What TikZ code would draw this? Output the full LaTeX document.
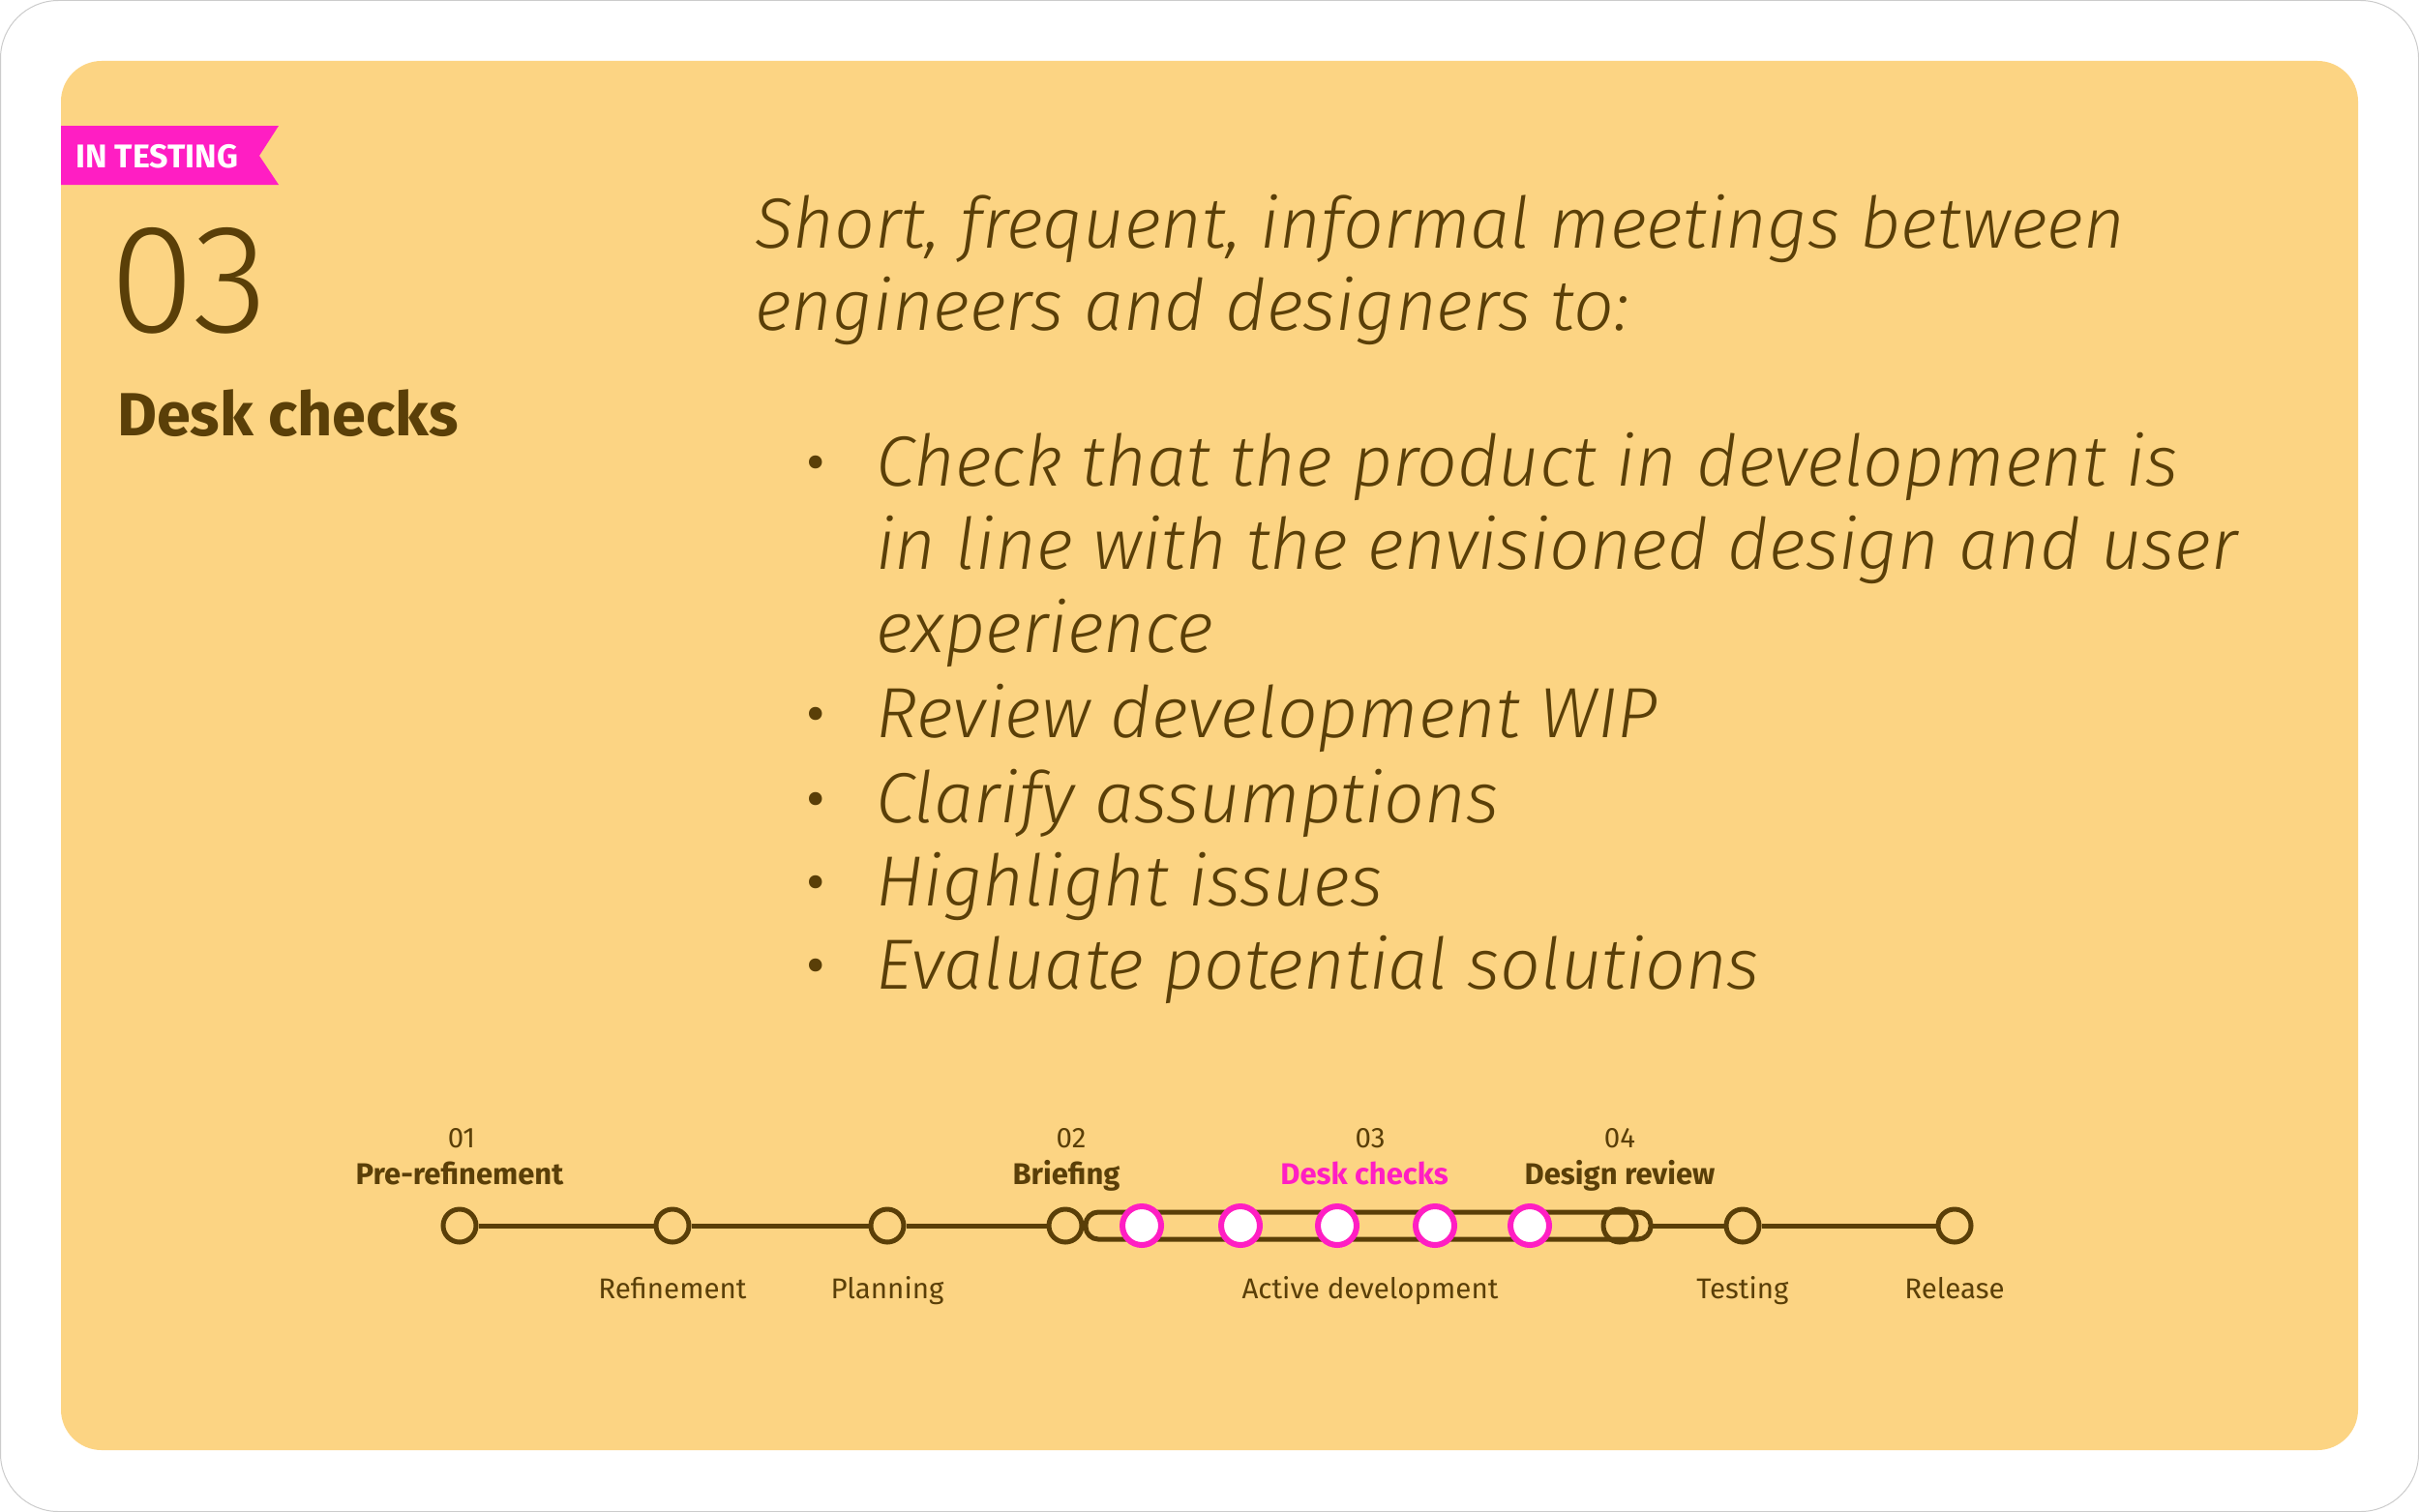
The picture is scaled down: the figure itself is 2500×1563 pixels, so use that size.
\documentclass[tikz,border=0pt]{standalone}
\usepackage{fontspec}
\setmainfont{Fira Sans}
\newfontfamily\lightf{Fira Sans Light}[ItalicFont={Fira Sans Light Italic}]
\definecolor{bgc}{HTML}{FCD483}
\definecolor{brn}{HTML}{5A3F08}
\definecolor{pnk}{HTML}{FF1EC3}
\begin{document}
\begin{tikzpicture}[x=1pt,y=-1pt,
  txt/.style={inner sep=0,text=brn},
  big/.style={txt,anchor=base west,font=\lightf\itshape\fontsize{73.5}{85}\selectfont},
  bul/.style={txt,anchor=base,font=\fontsize{60}{60}\selectfont},
  lab/.style={txt,anchor=base,font=\fontsize{29.5}{29}\selectfont},
  blab/.style={lab,font=\bfseries\fontsize{31}{29}\selectfont},
  dot/.style={circle,draw=brn,line width=5,fill=bgc,minimum size=34,inner sep=0},
  pdot/.style={circle,draw=pnk,line width=6,fill=white,minimum size=40,inner sep=0},
  ln/.style={draw=brn,line width=5}]
\useasboundingbox (0,0) rectangle (2500,1563);
\fill[white] (0,0) rectangle (2500,1563);
\draw[gray!40,line width=1] (0.5,0.5) [rounded corners=60] rectangle (2499.5,1562.5);
\fill[bgc,rounded corners=42] (63,63) rectangle (2437,1499);
\fill[pnk] (63,130) -- (288,130) -- (268,161) -- (288,191) -- (63,191) -- cycle;
\node[inner sep=0,anchor=base west,text=white,font=\bfseries\fontsize{34}{34}\selectfont] (ban) at (78,173) {IN TESTING};
\node[txt,anchor=base west,font=\lightf\fontsize{160}{160}\selectfont] (num) at (113,343) {03};
\node[txt,anchor=base west,font=\bfseries\fontsize{63}{63}\selectfont] (ttl) at (121,450) {Desk checks};
\node[big] (l1) at (780,256) {Short, frequent, informal meetings between};
\node[big] (l2) at (780,341) {engineers and designers to:};
\foreach \y/\t [count=\i] in {502/Check that the product in development is,588/in line with the envisioned design and user,674/experience,762/Review development WIP,850/Clarify assumptions,936/Highlight issues,1022/Evaluate potential solutions}{
  \node[big] (b\i) at (905,\y) {\t};}
\foreach \y [count=\i] in {502,762,850,936,1022}{\node[bul] (bu\i) at (843,\y-4) {•};}
% timeline
\node[dot] (t1) at (475,1267) {};
\node[dot] (t2) at (695,1267) {};
\node[dot] (t3) at (917,1267) {};
\node[dot] (t4) at (1101,1267) {};
\node[dot] (t6) at (1801,1267) {};
\node[dot] (t7) at (2020,1267) {};
\coordinate (pl) at (1122,1267);
\coordinate (pr) at (1706,1267);
\draw[ln] (t1) -- (t2); \draw[ln] (t2) -- (t3); \draw[ln] (t3) -- (t4);
\draw[ln] (t4) -- (pl);
\draw[ln] (pr) -- (t6); \draw[ln] (t6) -- (t7);
\draw[ln,rounded corners=13] (1122,1253) rectangle (1706,1281);
\node[dot,fill=none] (t5) at (1674,1267) {};
\foreach \x [count=\i] in {1180,1282,1382,1483,1581}{\node[pdot] (p\i) at (\x,1267) {};}
\node[lab] (n1) at (477,1186) {01};
\node[blab] (m1) at (475,1224) {Pre-refinement};
\node[lab] (n2) at (1107,1186) {02};
\node[blab] (m2) at (1102,1224) {Briefing};
\node[lab] (n3) at (1416,1186) {03};
\node[blab,text=pnk] (m3) at (1410,1224) {Desk checks};
\node[lab] (n4) at (1674,1186) {04};
\node[blab] (m4) at (1674,1224) {Design review};
\node[lab] (c1) at (695,1342) {Refinement};
\node[lab] (c2) at (917,1342) {Planning};
\node[lab] (c3) at (1416,1342) {Active development};
\node[lab] (c4) at (1801,1342) {Testing};
\node[lab] (c5) at (2020,1342) {Release};
\end{tikzpicture}
\end{document}
